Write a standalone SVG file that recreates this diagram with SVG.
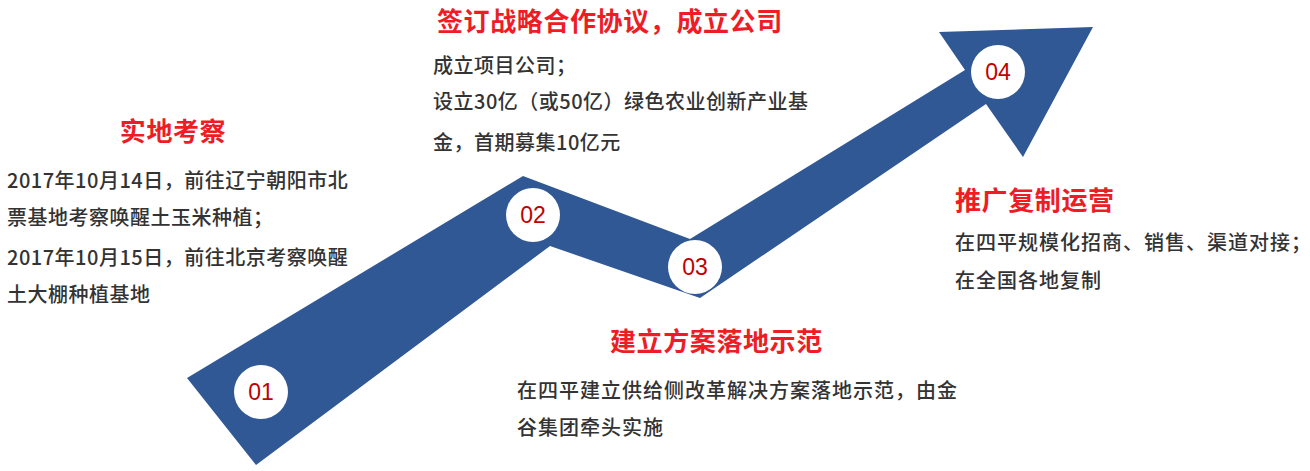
<svg xmlns="http://www.w3.org/2000/svg" width="1310" height="471" viewBox="0 0 1310 471">
<style>
.title{font-family:"Noto Sans CJK SC","Liberation Sans",sans-serif;font-size:26px;font-weight:bold;fill:#ee1c25;letter-spacing:0.6px}
.body{font-family:"Noto Sans CJK SC","Liberation Sans",sans-serif;font-size:20px;font-weight:500;fill:#333333;letter-spacing:0.5px}
.wide{letter-spacing:1px}
.num{font-family:"Liberation Sans","Noto Sans",sans-serif;font-size:23px;fill:#c00000;text-anchor:middle}
.dot{fill:#ffffff}
</style>
<rect width="1310" height="471" fill="#ffffff"/>
<g id="arrow">
<polygon points="187,378 523,176 690,239 965,70 939,32 1093,27 1023,157 986,104 700,298 550,246 256,465" fill="#305895"/>
</g>
<g id="node-01">
<circle class="dot" cx="261" cy="392" r="27"/>
<text class="num" x="261" y="400">01</text>
</g>
<g id="node-02">
<circle class="dot" cx="533" cy="215" r="27"/>
<text class="num" x="533" y="223">02</text>
</g>
<g id="node-03">
<circle class="dot" cx="695" cy="267" r="27"/>
<text class="num" x="695" y="275">03</text>
</g>
<g id="node-04">
<circle class="dot" cx="998" cy="72" r="27"/>
<text class="num" x="998" y="80">04</text>
</g>
<g id="text-01">
<text class="title" x="173" y="141" text-anchor="middle">实地考察</text>
<text class="body" x="7" y="188">2017年10月14日，前往辽宁朝阳市北</text>
<text class="body" x="7" y="225">票基地考察唤醒土玉米种植；</text>
<text class="body" x="7" y="265">2017年10月15日，前往北京考察唤醒</text>
<text class="body" x="7" y="302">土大棚种植基地</text>
</g>
<g id="text-02">
<text class="title" x="437" y="31">签订战略合作协议，成立公司</text>
<text class="body" x="433" y="73">成立项目公司；</text>
<text class="body" x="433" y="109">设立30亿（或50亿）绿色农业创新产业基</text>
<text class="body" x="433" y="150">金，首期募集10亿元</text>
</g>
<g id="text-03">
<text class="title" x="610" y="351">建立方案落地示范</text>
<text class="body wide" x="517" y="398">在四平建立供给侧改革解决方案落地示范，由金</text>
<text class="body wide" x="517" y="435">谷集团牵头实施</text>
</g>
<g id="text-04">
<text class="title" x="955" y="210">推广复制运营</text>
<text class="body wide" x="955" y="250">在四平规模化招商、销售、渠道对接；</text>
<text class="body wide" x="955" y="288">在全国各地复制</text>
</g>
</svg>
